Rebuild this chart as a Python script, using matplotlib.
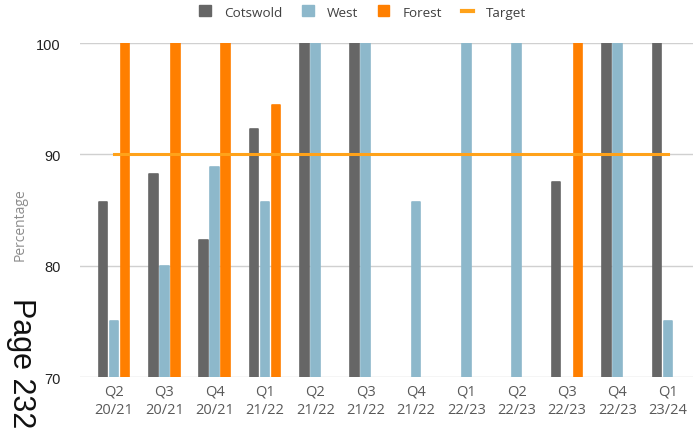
import numpy as np
import matplotlib.pyplot as plt
from matplotlib.lines import Line2D
from matplotlib.patches import Patch

quarters = ['Q2\n20/21', 'Q3\n20/21', 'Q4\n20/21', 'Q1\n21/22', 'Q2\n21/22', 'Q3\n21/22',
            'Q4\n21/22', 'Q1\n22/23', 'Q2\n22/23', 'Q3\n22/23', 'Q4\n22/23', 'Q1\n23/24']
cotswold = [85.7, 88.2, 82.3, 92.3, 100, 100, np.nan, np.nan, np.nan, 87.5, 100, 100]
west = [75, 80, 88.9, 85.7, 100, 100, 85.7, 100, 100, np.nan, 100, 75]
forest = [100, 100, 100, 94.4, np.nan, np.nan, np.nan, np.nan, np.nan, 100, np.nan, np.nan]
target = 90

c_cots = '#666666'
c_west = '#8db8cb'
c_forest = '#ff7f00'
c_target = '#ffa21a'

fig = plt.figure(figsize=(6.98, 4.35), dpi=100)
ax = fig.add_axes([80 / 698, 1 - 378 / 435, 613 / 698, 334 / 435])

x = np.arange(len(quarters))
w = 0.17
step = 0.218
bar_kw = dict(width=w, bottom=0, linewidth=1.2, joinstyle='round', zorder=3)
ax.bar(x - step, cotswold, color=c_cots, edgecolor=c_cots, **bar_kw)
ax.bar(x, west, color=c_west, edgecolor=c_west, **bar_kw)
ax.bar(x + step, forest, color=c_forest, edgecolor=c_forest, **bar_kw)
ax.plot(x, [target] * len(x), color=c_target, lw=2.2, zorder=4)

ax.set_ylim(70, 100)
ax.set_xlim(-0.675, len(quarters) - 0.5)
ax.set_yticks([70, 80, 90, 100])
ax.set_xticks(x, quarters)
ax.grid(axis='y', color='#d0d0d0', lw=1, zorder=0)
for s in ax.spines.values():
    s.set_visible(False)
ax.tick_params(axis='both', length=0)
ax.tick_params(axis='y', pad=14, labelsize=10.5, labelcolor='#222222')
ax.tick_params(axis='x', pad=5, labelsize=10.5, labelcolor='#595959')
for lab in ax.get_yticklabels():
    lab.set_family('Liberation Sans')
for lab in ax.get_xticklabels():
    lab.set_family('Open Sans')
    lab.set_linespacing(1.25)

fig.text(20 / 698, 1 - 225 / 435, 'Percentage', rotation=90, ha='center', va='center',
         color='#8c8c8c', fontsize=10, family='Open Sans')
fig.text(21 / 698, 1 - 363 / 435, 'Page 232', rotation=-90, ha='center', va='center',
         color='#111111', fontsize=22, family='Liberation Sans')

handles = [Patch(color=c_cots), Patch(color=c_west), Patch(color=c_forest),
           Line2D([0], [0], color=c_target, lw=3)]
fig.legend(handles, ['Cotswold', 'West', 'Forest', 'Target'], loc='center',
           bbox_to_anchor=(363 / 698, 1 - 13 / 435), ncol=4, frameon=False,
           handlelength=0.85, handleheight=0.85, columnspacing=1.5, handletextpad=0.95,
           prop={'family': 'Open Sans', 'size': 9.7}, labelcolor='#404040')

fig.savefig('out.png', dpi=100)
